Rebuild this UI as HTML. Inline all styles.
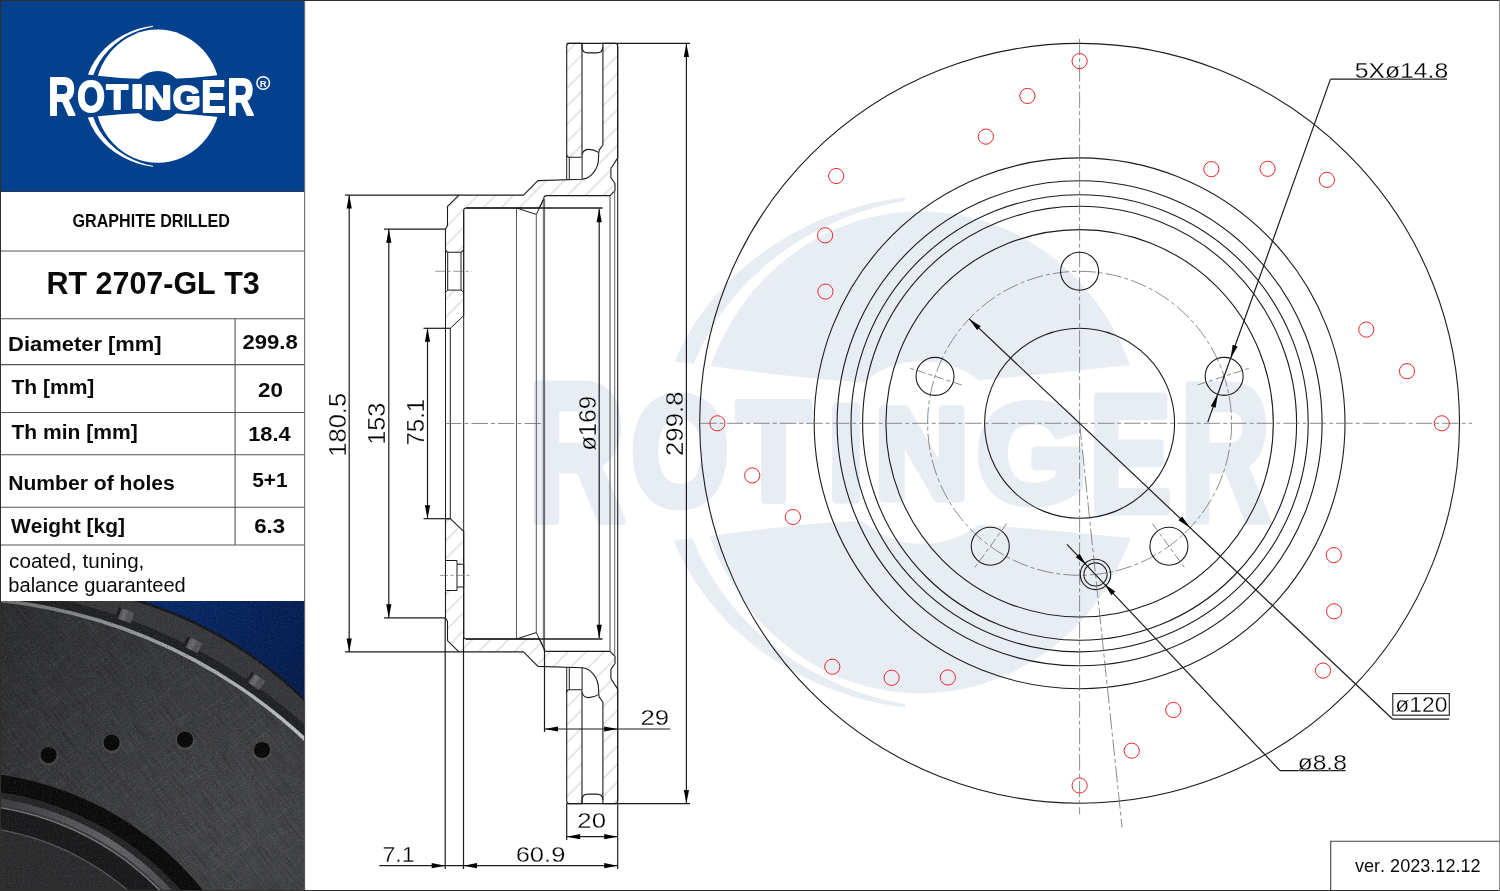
<!DOCTYPE html>
<html lang="en"><head><meta charset="utf-8"><title>ROTINGER RT 2707-GL T3</title>
<style>
html,body{margin:0;padding:0;background:#fff}
body{width:1500px;height:891px;overflow:hidden}
svg{display:block;will-change:transform}
text{font-family:"Liberation Sans",Arial,sans-serif;font-kerning:none}
</style></head><body>
<svg width="1500" height="891" viewBox="0 0 1500 891">
<defs>
<pattern id="hatch" width="12.7" height="12.7" patternUnits="userSpaceOnUse" patternTransform="rotate(-45)">
<line x1="0" y1="6" x2="12.7" y2="6" stroke="#b6b6b6" stroke-width="0.7"/>
</pattern>
<pattern id="hatch2" width="12.7" height="12.7" patternUnits="userSpaceOnUse" patternTransform="rotate(45)">
<line x1="0" y1="3" x2="12.7" y2="3" stroke="#b6b6b6" stroke-width="0.7"/>
</pattern>
<clipPath id="swclip"><rect x="60" y="0" width="93" height="200"/></clipPath>
<mask id="lmask" maskUnits="userSpaceOnUse" x="0" y="0" width="320" height="200">
<rect x="0" y="0" width="320" height="200" fill="#fff"/>
<path d="M60,73.2 L86,74.2 Q157.5,84.4 230,73.4 L250,72.6 L250,119.4 L230,118.6 Q157.5,107.6 86,117.8 L60,118.8 Z" fill="#000"/>
<circle cx="157.8" cy="96.2" r="25.3" fill="#000"/>
</mask>
<mask id="wmask" maskUnits="userSpaceOnUse" x="500" y="100" width="850" height="700">
<rect x="500" y="100" width="850" height="700" fill="#fff"/>
<path d="M600,352 L711,366 C780,376 850,383 900,384 C960,384 1060,372.5 1135,364.5 L1250,350 L1250,556 L1135,538.5 C1060,531 960,522 900,520 C850,519 780,526 711,536 L600,550 Z" fill="#000"/>
<circle cx="922.6" cy="452.4" r="91.5" fill="#000"/>
</mask>
</defs>
<rect x="0" y="0" width="1500" height="891" fill="#fff"/>

<g style="color:#e8edf3"><g mask="url(#wmask)"><g transform="translate(351.4 104.1) scale(3.62)" fill="currentColor"><ellipse cx="157.2" cy="96.2" rx="62.1" ry="66.6"/>
<path d="M171.2,25.34 A79.85,71.15 0 1 0 171.2,167.06 A78.55,70.91 0 1 1 171.2,25.34 Z" clip-path="url(#swclip)"/></g></g><text font-weight="bold" fill="currentColor" stroke="currentColor" stroke-width="9.0" stroke-linejoin="round"><tspan x="527.44" y="519.50" font-size="196.22" textLength="97.84" lengthAdjust="spacingAndGlyphs">R</tspan><tspan x="631.36" y="504.70" font-size="153.11" textLength="97.39" lengthAdjust="spacingAndGlyphs">O</tspan><tspan x="737.17" y="498.90" font-size="139.54" textLength="72.61" lengthAdjust="spacingAndGlyphs">T</tspan><tspan x="827.68" y="498.50" font-size="134.45" textLength="36.65" lengthAdjust="spacingAndGlyphs">I</tspan><tspan x="874.80" y="497.90" font-size="127.33" textLength="93.97" lengthAdjust="spacingAndGlyphs">N</tspan><tspan x="976.66" y="502.14" font-size="139.55" textLength="110.66" lengthAdjust="spacingAndGlyphs">G</tspan><tspan x="1089.27" y="510.50" font-size="165.99" textLength="82.03" lengthAdjust="spacingAndGlyphs">E</tspan><tspan x="1180.17" y="520.30" font-size="194.48" textLength="89.88" lengthAdjust="spacingAndGlyphs">R</tspan></text></g>
<g id="sidebar">
<rect x="0" y="0" width="304.5" height="191.3" fill="#04418d"/>
<g style="color:#fff"><g mask="url(#lmask)" fill="currentColor"><ellipse cx="157.7" cy="96.2" rx="62.9" ry="66.6"/>
<path d="M171.2,25.34 A79.85,71.15 0 1 0 171.2,167.06 A78.55,70.91 0 1 1 171.2,25.34 Z" clip-path="url(#swclip)"/></g><text font-weight="bold" fill="currentColor" stroke="currentColor" stroke-width="2.0" stroke-linejoin="round"><tspan x="48.37" y="115.00" font-size="54.51" textLength="27.30" lengthAdjust="spacingAndGlyphs">R</tspan><tspan x="77.24" y="111.97" font-size="43.93" textLength="27.65" lengthAdjust="spacingAndGlyphs">O</tspan><tspan x="106.61" y="108.80" font-size="34.30" textLength="21.47" lengthAdjust="spacingAndGlyphs">T</tspan><tspan x="130.89" y="108.40" font-size="33.14" textLength="12.92" lengthAdjust="spacingAndGlyphs">I</tspan><tspan x="144.26" y="108.80" font-size="32.99" textLength="27.39" lengthAdjust="spacingAndGlyphs">N</tspan><tspan x="172.73" y="109.75" font-size="35.88" textLength="27.89" lengthAdjust="spacingAndGlyphs">G</tspan><tspan x="201.16" y="112.30" font-size="44.04" textLength="24.37" lengthAdjust="spacingAndGlyphs">E</tspan><tspan x="227.22" y="115.00" font-size="52.47" textLength="26.74" lengthAdjust="spacingAndGlyphs">R</tspan></text></g>
<circle cx="263.2" cy="83" r="6.3" fill="none" stroke="#fff" stroke-width="1.5"/>
<text x="263.3" y="86.5" font-size="9.6" font-weight="bold" text-anchor="middle" fill="#fff">R</text>
<line x1="0.00" y1="191.40" x2="304.50" y2="191.40" stroke="#15275a" stroke-width="1.0" />
<line x1="0.00" y1="251.00" x2="304.50" y2="251.00" stroke="#555" stroke-width="1.1" />
<line x1="0.00" y1="318.80" x2="304.50" y2="318.80" stroke="#555" stroke-width="1.1" />
<line x1="0.00" y1="364.60" x2="304.50" y2="364.60" stroke="#555" stroke-width="1.1" />
<line x1="0.00" y1="412.50" x2="304.50" y2="412.50" stroke="#555" stroke-width="1.1" />
<line x1="0.00" y1="454.80" x2="304.50" y2="454.80" stroke="#555" stroke-width="1.1" />
<line x1="0.00" y1="507.20" x2="304.50" y2="507.20" stroke="#555" stroke-width="1.1" />
<line x1="0.00" y1="545.00" x2="304.50" y2="545.00" stroke="#555" stroke-width="1.1" />
<line x1="235.10" y1="318.80" x2="235.10" y2="545.00" stroke="#555" stroke-width="1.1" />
<line x1="304.60" y1="0.00" x2="304.60" y2="891.00" stroke="#6b6b6b" stroke-width="1.1" />
<text x="72.54" y="227.20" font-size="18.02" font-weight="bold" textLength="157.44" lengthAdjust="spacingAndGlyphs" fill="#0a0a0a">GRAPHITE DRILLED</text>
<text x="46.56" y="294.40" font-size="31.98" font-weight="bold" textLength="213.14" lengthAdjust="spacingAndGlyphs" fill="#0a0a0a">RT 2707-GL T3</text>
<text x="8.13" y="350.80" font-size="20.20" font-weight="bold" textLength="153.50" lengthAdjust="spacingAndGlyphs" fill="#0a0a0a">Diameter [mm]</text>
<text x="242.43" y="348.70" font-size="20.34" font-weight="bold" textLength="55.24" lengthAdjust="spacingAndGlyphs" fill="#0a0a0a">299.8</text>
<text x="11.46" y="393.90" font-size="20.64" font-weight="bold" textLength="82.92" lengthAdjust="spacingAndGlyphs" fill="#0a0a0a">Th [mm]</text>
<text x="258.02" y="396.50" font-size="20.63" font-weight="bold" textLength="24.89" lengthAdjust="spacingAndGlyphs" fill="#0a0a0a">20</text>
<text x="11.46" y="438.70" font-size="20.64" font-weight="bold" textLength="126.22" lengthAdjust="spacingAndGlyphs" fill="#0a0a0a">Th min [mm]</text>
<text x="248.22" y="440.90" font-size="20.63" font-weight="bold" textLength="42.49" lengthAdjust="spacingAndGlyphs" fill="#0a0a0a">18.4</text>
<text x="8.19" y="489.50" font-size="20.64" font-weight="bold" textLength="166.58" lengthAdjust="spacingAndGlyphs" fill="#0a0a0a">Number of holes</text>
<text x="252.16" y="486.90" font-size="20.49" font-weight="bold" textLength="35.42" lengthAdjust="spacingAndGlyphs" fill="#0a0a0a">5+1</text>
<text x="11.08" y="533.20" font-size="20.35" font-weight="bold" textLength="113.79" lengthAdjust="spacingAndGlyphs" fill="#0a0a0a">Weight [kg]</text>
<text x="254.19" y="532.80" font-size="20.06" font-weight="bold" textLength="30.81" lengthAdjust="spacingAndGlyphs" fill="#0a0a0a">6.3</text>
<text x="9.12" y="568.40" font-size="20.44" font-weight="normal" textLength="135.23" lengthAdjust="spacingAndGlyphs" fill="#0a0a0a">coated, tuning,</text>
<text x="8.31" y="591.90" font-size="20.44" font-weight="normal" textLength="177.49" lengthAdjust="spacingAndGlyphs" fill="#0a0a0a">balance guaranteed</text>
</g>
<defs>
<clipPath id="pclip"><rect x="0" y="601" width="304.2" height="290"/></clipPath>
<linearGradient id="pblue" gradientUnits="userSpaceOnUse" x1="140" y1="600" x2="304" y2="700"><stop offset="0" stop-color="#092b6c"/><stop offset="1" stop-color="#051c4e"/></linearGradient>
<filter id="grainW" x="0" y="0" width="100%" height="100%"><feTurbulence type="fractalNoise" baseFrequency="0.85" numOctaves="2" seed="3"/><feColorMatrix type="matrix" values="0 0 0 0 1  0 0 0 0 1  0 0 0 0 1  1.6 1.6 0 0 -1.5"/></filter>
<filter id="grainB" x="0" y="0" width="100%" height="100%"><feTurbulence type="fractalNoise" baseFrequency="0.8" numOctaves="2" seed="11"/><feColorMatrix type="matrix" values="0 0 0 0 0  0 0 0 0 0  0 0 0 0 0  1.6 1.6 0 0 -1.5"/></filter>
<filter id="streakW" x="0" y="0" width="100%" height="100%"><feTurbulence type="fractalNoise" baseFrequency="0.035 0.7" numOctaves="2" seed="5"/><feColorMatrix type="matrix" values="0 0 0 0 1  0 0 0 0 1  0 0 0 0 1  2.2 2.2 0 0 -2.1"/></filter>
<filter id="streakB" x="0" y="0" width="100%" height="100%"><feTurbulence type="fractalNoise" baseFrequency="0.03 0.6" numOctaves="2" seed="9"/><feColorMatrix type="matrix" values="0 0 0 0 0  0 0 0 0 0  0 0 0 0 0  2.2 2.2 0 0 -2.1"/></filter>
<clipPath id="faceclip"><circle cx="-53.5" cy="1123" r="523.4"/></clipPath>
<radialGradient id="face" gradientUnits="userSpaceOnUse" cx="255" cy="835" r="340"><stop offset="0" stop-color="#454648"/><stop offset="0.45" stop-color="#3b3c3e"/><stop offset="1" stop-color="#2b2c2e"/></radialGradient>
<linearGradient id="hl" gradientUnits="userSpaceOnUse" x1="0" y1="0" x2="304" y2="0"><stop offset="0" stop-color="#6e7072"/><stop offset="0.5" stop-color="#9c9ea0"/><stop offset="1" stop-color="#c2c4c6"/></linearGradient>
<linearGradient id="ring" gradientUnits="userSpaceOnUse" x1="0" y1="800" x2="180" y2="891"><stop offset="0" stop-color="#3c3d3f"/><stop offset="0.6" stop-color="#646567"/><stop offset="1" stop-color="#4a4b4d"/></linearGradient>
</defs>
<g clip-path="url(#pclip)">
<rect x="0" y="601" width="305" height="290" fill="url(#pblue)"/>
<circle cx="21.5" cy="986.8" r="404.2" fill="#171719"/>
<circle cx="21.5" cy="986.8" r="401.8" fill="#38393b"/>
<circle cx="-53.5" cy="1123" r="535.5" fill="#212224"/>
<g transform="translate(125.6 615.0) rotate(19.4)"><rect x="-7.5" y="-5" width="15" height="11" fill="#555658"/><rect x="-9" y="-5" width="3" height="11" fill="#1c1c1e"/><rect x="-4" y="-5" width="5" height="11" fill="#6f7072" opacity="0.7"/></g>
<g transform="translate(193.6 644.5) rotate(27.3)"><rect x="-7.5" y="-5" width="15" height="11" fill="#555658"/><rect x="-9" y="-5" width="3" height="11" fill="#1c1c1e"/><rect x="-4" y="-5" width="5" height="11" fill="#6f7072" opacity="0.7"/></g>
<g transform="translate(256.4 681.0) rotate(35.0)"><rect x="-7.5" y="-5" width="15" height="11" fill="#555658"/><rect x="-9" y="-5" width="3" height="11" fill="#1c1c1e"/><rect x="-4" y="-5" width="5" height="11" fill="#6f7072" opacity="0.7"/></g>
<circle cx="-53.5" cy="1123" r="526.9" fill="url(#hl)"/>
<circle cx="-53.5" cy="1123" r="523.4" fill="url(#face)"/>
<g clip-path="url(#faceclip)">
<rect x="-300" y="-300" width="900" height="900" transform="translate(150 750) rotate(-38)" filter="url(#streakW)" opacity="0.05"/>
<rect x="-300" y="-300" width="900" height="900" transform="translate(150 750) rotate(52)" filter="url(#streakB)" opacity="0.16"/>
<rect x="-300" y="-300" width="900" height="900" transform="translate(150 750) rotate(48)" filter="url(#streakW)" opacity="0.035"/>
</g>
<g>
<circle cx="48.6" cy="756.1" r="9.6" fill="#5a5b5e" opacity="0.5"/><circle cx="48.6" cy="755.1" r="8.1" fill="#09090a"/>
<circle cx="111.6" cy="743.7" r="9.6" fill="#5a5b5e" opacity="0.5"/><circle cx="111.6" cy="742.7" r="8.1" fill="#09090a"/>
<circle cx="185" cy="740.6" r="9.6" fill="#5a5b5e" opacity="0.5"/><circle cx="185" cy="739.6" r="8.1" fill="#09090a"/>
<circle cx="262" cy="751" r="9.6" fill="#5a5b5e" opacity="0.5"/><circle cx="262" cy="750" r="8.1" fill="#09090a"/>
</g>
<circle cx="-45" cy="1090" r="318.5" fill="#0b0b0c"/>
<circle cx="-45" cy="1090" r="301.5" fill="#262628"/>
<circle cx="-45" cy="1090" r="295" fill="url(#ring)"/>
<circle cx="-45" cy="1090" r="288.5" fill="#3a3a3c"/>
<circle cx="-45" cy="1090" r="286.6" fill="#7a7b7d"/>
<circle cx="-45" cy="1090" r="285.2" fill="#1a1a1c"/>
<circle cx="-45" cy="1090" r="264.6" fill="#58595b"/>
<circle cx="-45" cy="1090" r="263.3" fill="#2c2c2e"/>
<rect x="0" y="601" width="305" height="290" filter="url(#grainW)" opacity="0.10"/>
<rect x="0" y="601" width="305" height="290" filter="url(#grainB)" opacity="0.22"/>
</g>

<g id="section" fill="none" stroke-linecap="butt" stroke-linejoin="round">
<g>
<path d="M566.7,46 Q566.7,43.4 569.3,43.4 L582,43.4 L582,157.3 L569.3,157.3 Q566.7,157.3 566.7,154.7 Z" fill="url(#hatch)" stroke="none"/>
<path d="M602.9,43.4 L615.2,43.4 Q617.7,43.4 617.7,46 L617.7,157.9 L610.9,168.5 L610.9,177.6 L615,183.5 L615,190.6 L610,195.6 L547,195.6 Q543.7,195.6 543.7,199 L539.4,208 L466.2,208 Q463.7,208 463.7,210.5 L463.7,250 L461,252.3 L447.7,252.3 L445.5,250 L445.5,229.2 L447.5,225.5 L447.5,206.3 L458.9,195.1 L523.5,195.1 L537.9,180.6 L582.1,179.2 C589.5,178.6 598.6,171 598.6,157 Q598.6,152 599.3,149.8 L602.9,145 Z" fill="url(#hatch)" stroke="none"/>
<path d="M447.7,290.1 L461,290.1 L463.7,292.4 L463.7,315.7 L450.3,328.3 L445.5,328.3 L445.5,292.4 Z" fill="url(#hatch)" stroke="none"/>
<path d="M566.7,46 Q566.7,43.4 569.3,43.4 L582,43.4 L582,157.3 L569.3,157.3 Q566.7,157.3 566.7,154.7 Z" stroke="#1c1c1c" stroke-width="1.1"/>
<path d="M602.9,43.4 L615.2,43.4 Q617.7,43.4 617.7,46 L617.7,157.9 L610.9,168.5 L610.9,177.6 L615,183.5 L615,190.6 L610,195.6 L547,195.6 Q543.7,195.6 543.7,199 L539.4,208 L466.2,208 Q463.7,208 463.7,210.5 L463.7,250 L461,252.3 L447.7,252.3 L445.5,250 L445.5,229.2 L447.5,225.5 L447.5,206.3 L458.9,195.1 L523.5,195.1 L537.9,180.6 L582.1,179.2 C589.5,178.6 598.6,171 598.6,157 Q598.6,152 599.3,149.8 L602.9,145 Z" stroke="#1c1c1c" stroke-width="1.1"/>
<path d="M582,43.4 L582,47 Q582,52.9 588,52.9 L596.6,52.9 Q602.9,52.9 602.9,47" stroke="#1c1c1c" stroke-width="1.1"/>
<path d="M582.1,154.3 Q583.5,149.4 588.6,149.4 Q594,149.4 598.4,152.4" stroke="#1c1c1c" stroke-width="1.1"/>
<path d="M566.7,154.7 L566.7,179.6 M569.3,157.3 L569.3,179.5 M582.1,157.3 L582.1,179.2" stroke="#1c1c1c" stroke-width="1.0"/>
<path d="M516.5,208 L536.3,214.4 L543.7,199" stroke="#1c1c1c" stroke-width="1.0"/>
<path d="M445.5,250 L445.5,328.3 M447.7,252.3 L447.7,290.1 M461,252.3 L461,290.1 M463.7,250 L463.7,315.7 L450.3,328.3 M445.5,292.4 L447.7,290.1 L461,290.1 L463.7,292.4" stroke="#1c1c1c" stroke-width="1.0"/>
</g>
<g transform="matrix(1 0 0 -1 0 847.0)">
<path d="M566.7,46 Q566.7,43.4 569.3,43.4 L582,43.4 L582,157.3 L569.3,157.3 Q566.7,157.3 566.7,154.7 Z" fill="url(#hatch2)" stroke="none"/>
<path d="M602.9,43.4 L615.2,43.4 Q617.7,43.4 617.7,46 L617.7,157.9 L610.9,168.5 L610.9,177.6 L615,183.5 L615,190.6 L610,195.6 L547,195.6 Q543.7,195.6 543.7,199 L539.4,208 L466.2,208 Q463.7,208 463.7,210.5 L463.7,315.7 L450.3,328.3 L445.5,328.3 L445.5,229.2 L447.5,225.5 L447.5,206.3 L458.9,195.1 L523.5,195.1 L537.9,180.6 L582.1,179.2 C589.5,178.6 598.6,171 598.6,157 Q598.6,152 599.3,149.8 L602.9,145 Z" fill="url(#hatch2)" stroke="none"/>
<path d="M566.7,46 Q566.7,43.4 569.3,43.4 L582,43.4 L582,157.3 L569.3,157.3 Q566.7,157.3 566.7,154.7 Z" stroke="#1c1c1c" stroke-width="1.1"/>
<path d="M602.9,43.4 L615.2,43.4 Q617.7,43.4 617.7,46 L617.7,157.9 L610.9,168.5 L610.9,177.6 L615,183.5 L615,190.6 L610,195.6 L547,195.6 Q543.7,195.6 543.7,199 L539.4,208 L466.2,208 Q463.7,208 463.7,210.5 L463.7,315.7 L450.3,328.3 L445.5,328.3 L445.5,229.2 L447.5,225.5 L447.5,206.3 L458.9,195.1 L523.5,195.1 L537.9,180.6 L582.1,179.2 C589.5,178.6 598.6,171 598.6,157 Q598.6,152 599.3,149.8 L602.9,145 Z" stroke="#1c1c1c" stroke-width="1.1"/>
<path d="M582,43.4 L582,47 Q582,52.9 588,52.9 L596.6,52.9 Q602.9,52.9 602.9,47" stroke="#1c1c1c" stroke-width="1.1"/>
<path d="M582.1,154.3 Q583.5,149.4 588.6,149.4 Q594,149.4 598.4,152.4" stroke="#1c1c1c" stroke-width="1.1"/>
<path d="M566.7,154.7 L566.7,179.6 M569.3,157.3 L569.3,179.5 M582.1,157.3 L582.1,179.2" stroke="#1c1c1c" stroke-width="1.0"/>
<path d="M516.5,208 L536.3,214.4 L543.7,199" stroke="#1c1c1c" stroke-width="1.0"/>
</g>
<path d="M445.5,560.5 L457,560.5 L457,564.3 L463.7,564.3 L463.7,587 L457,587 L457,590.5 L445.5,590.5 Z" fill="#fff" stroke="#1c1c1c" stroke-width="1.0"/>
<path d="M457,564.3 L457,587" fill="none" stroke="#1c1c1c" stroke-width="1.0"/>
<line x1="445.50" y1="229.20" x2="445.50" y2="617.80" stroke="#1c1c1c" stroke-width="1.0" />
<line x1="450.30" y1="328.30" x2="450.30" y2="518.70" stroke="#1c1c1c" stroke-width="1.0" />
<line x1="463.70" y1="210.50" x2="463.70" y2="636.50" stroke="#1c1c1c" stroke-width="1.0" />
<line x1="516.50" y1="208.00" x2="516.50" y2="639.00" stroke="#444" stroke-width="0.9" />
<line x1="536.30" y1="214.40" x2="536.30" y2="632.60" stroke="#444" stroke-width="0.9" />
<line x1="543.30" y1="199.00" x2="543.30" y2="648.00" stroke="#333" stroke-width="0.8" />
<line x1="544.60" y1="199.00" x2="544.60" y2="648.00" stroke="#333" stroke-width="0.8" />
<line x1="610.00" y1="195.60" x2="610.00" y2="651.40" stroke="#666" stroke-width="1.2" />
<line x1="614.70" y1="190.60" x2="614.70" y2="656.40" stroke="#666" stroke-width="1.0" />
<line x1="617.70" y1="46.00" x2="617.70" y2="801.00" stroke="#1c1c1c" stroke-width="1.1" />
<line x1="445.00" y1="423.50" x2="541.00" y2="423.50" stroke="#6e6e6e" stroke-width="0.8" stroke-dasharray="16.5 3 4 3"/>
<line x1="435.20" y1="271.30" x2="471.70" y2="271.30" stroke="#6e6e6e" stroke-width="0.7" stroke-dasharray="10 2.5 3 2.5"/>
<line x1="440.00" y1="575.40" x2="469.60" y2="575.40" stroke="#6e6e6e" stroke-width="0.7" stroke-dasharray="8 2.5 3 2.5"/>
</g>
<g id="dims">
<line x1="345.00" y1="195.10" x2="459.00" y2="195.10" stroke="#1c1c1c" stroke-width="1.2" />
<line x1="345.00" y1="651.90" x2="459.00" y2="651.90" stroke="#1c1c1c" stroke-width="1.2" />
<line x1="349.20" y1="195.10" x2="349.20" y2="651.90" stroke="#1c1c1c" stroke-width="1.2" />
<polygon points="349.20,195.10 351.80,208.60 346.60,208.60" fill="#000"/>
<polygon points="349.20,651.90 346.60,638.40 351.80,638.40" fill="#000"/>
<line x1="384.00" y1="229.20" x2="446.00" y2="229.20" stroke="#1c1c1c" stroke-width="1.2" />
<line x1="384.00" y1="617.80" x2="446.00" y2="617.80" stroke="#1c1c1c" stroke-width="1.2" />
<line x1="388.80" y1="229.20" x2="388.80" y2="617.80" stroke="#1c1c1c" stroke-width="1.2" />
<polygon points="388.80,229.20 391.40,242.70 386.20,242.70" fill="#000"/>
<polygon points="388.80,617.80 386.20,604.30 391.40,604.30" fill="#000"/>
<line x1="423.50" y1="328.30" x2="450.30" y2="328.30" stroke="#1c1c1c" stroke-width="1.2" />
<line x1="423.50" y1="518.70" x2="450.30" y2="518.70" stroke="#1c1c1c" stroke-width="1.2" />
<line x1="427.50" y1="328.30" x2="427.50" y2="518.70" stroke="#1c1c1c" stroke-width="1.2" />
<polygon points="427.50,328.30 430.10,341.80 424.90,341.80" fill="#000"/>
<polygon points="427.50,518.70 424.90,505.20 430.10,505.20" fill="#000"/>
<line x1="466.00" y1="208.00" x2="602.50" y2="208.00" stroke="#1c1c1c" stroke-width="1.5" />
<line x1="466.00" y1="639.00" x2="602.50" y2="639.00" stroke="#1c1c1c" stroke-width="1.5" />
<line x1="599.20" y1="209.00" x2="599.20" y2="638.00" stroke="#1c1c1c" stroke-width="1.2" />
<polygon points="599.20,208.80 601.80,222.30 596.60,222.30" fill="#000"/>
<polygon points="599.20,638.20 596.60,624.70 601.80,624.70" fill="#000"/>
<line x1="566.70" y1="43.40" x2="690.00" y2="43.40" stroke="#1c1c1c" stroke-width="1.2" />
<line x1="566.70" y1="803.60" x2="690.00" y2="803.60" stroke="#1c1c1c" stroke-width="1.2" />
<line x1="686.40" y1="43.40" x2="686.40" y2="803.60" stroke="#1c1c1c" stroke-width="1.2" />
<polygon points="686.40,43.40 689.00,56.90 683.80,56.90" fill="#000"/>
<polygon points="686.40,803.60 683.80,790.10 689.00,790.10" fill="#000"/>
<line x1="445.20" y1="617.80" x2="445.20" y2="869.00" stroke="#1c1c1c" stroke-width="1.2" />
<line x1="463.50" y1="637.00" x2="463.50" y2="869.00" stroke="#1c1c1c" stroke-width="1.2" />
<line x1="617.70" y1="803.60" x2="617.70" y2="869.00" stroke="#1c1c1c" stroke-width="1.2" />
<line x1="566.70" y1="803.60" x2="566.70" y2="840.00" stroke="#1c1c1c" stroke-width="1.2" />
<line x1="544.50" y1="648.00" x2="544.50" y2="732.00" stroke="#1c1c1c" stroke-width="1.2" />
<line x1="544.50" y1="729.00" x2="670.30" y2="729.00" stroke="#1c1c1c" stroke-width="1.2" />
<polygon points="544.50,729.00 558.00,726.40 558.00,731.60" fill="#000"/>
<polygon points="617.70,729.00 604.20,731.60 604.20,726.40" fill="#000"/>
<line x1="566.70" y1="836.70" x2="617.70" y2="836.70" stroke="#1c1c1c" stroke-width="1.2" />
<polygon points="566.70,836.70 580.20,834.10 580.20,839.30" fill="#000"/>
<polygon points="617.70,836.70 604.20,839.30 604.20,834.10" fill="#000"/>
<line x1="379.30" y1="865.70" x2="617.70" y2="865.70" stroke="#1c1c1c" stroke-width="1.2" />
<polygon points="445.20,865.70 431.70,868.30 431.70,863.10" fill="#000"/>
<polygon points="463.50,865.70 477.00,863.10 477.00,868.30" fill="#000"/>
<polygon points="617.70,865.70 604.20,868.30 604.20,863.10" fill="#000"/>
<text transform="translate(345.80 456.69) rotate(-90)" x="0" y="0" font-size="24.71" textLength="63.81" lengthAdjust="spacingAndGlyphs" fill="#000" stroke="#fff" stroke-width="0.3">180.5</text>
<text transform="translate(385.30 444.87) rotate(-90)" x="0" y="0" font-size="24.57" textLength="42.13" lengthAdjust="spacingAndGlyphs" fill="#000" stroke="#fff" stroke-width="0.3">153</text>
<text transform="translate(423.80 445.48) rotate(-90)" x="0" y="0" font-size="24.28" textLength="46.60" lengthAdjust="spacingAndGlyphs" fill="#000" stroke="#fff" stroke-width="0.3">75.1</text>
<text transform="translate(595.80 450.87) rotate(-90)" x="0" y="0" font-size="24.57" textLength="54.96" lengthAdjust="spacingAndGlyphs" fill="#000" stroke="#fff" stroke-width="0.3">ø169</text>
<text transform="translate(682.80 456.05) rotate(-90)" x="0" y="0" font-size="24.57" textLength="64.52" lengthAdjust="spacingAndGlyphs" fill="#000" stroke="#fff" stroke-width="0.3">299.8</text>
<text x="640.46" y="725.10" font-size="22.11" textLength="28.61" lengthAdjust="spacingAndGlyphs" fill="#000" stroke="#fff" stroke-width="0.3">29</text>
<text x="577.35" y="828.30" font-size="21.82" textLength="28.71" lengthAdjust="spacingAndGlyphs" fill="#000" stroke="#fff" stroke-width="0.3">20</text>
<text x="515.65" y="861.70" font-size="21.82" textLength="49.81" lengthAdjust="spacingAndGlyphs" fill="#000" stroke="#fff" stroke-width="0.3">60.9</text>
<text x="382.47" y="861.70" font-size="21.82" textLength="32.11" lengthAdjust="spacingAndGlyphs" fill="#000" stroke="#fff" stroke-width="0.3">7.1</text>
</g>
<g id="front" fill="none">
<circle cx="1079.6" cy="423.3" r="379.9" stroke="#1c1c1c" stroke-width="1.1"/>
<circle cx="1079.6" cy="423.3" r="265.4" stroke="#1c1c1c" stroke-width="1.1"/>
<circle cx="1079.6" cy="423.3" r="242.5" stroke="#1c1c1c" stroke-width="1.1"/>
<circle cx="1079.6" cy="423.3" r="228.6" stroke="#1c1c1c" stroke-width="1.1"/>
<circle cx="1079.6" cy="423.3" r="217.0" stroke="#1c1c1c" stroke-width="1.1"/>
<circle cx="1079.6" cy="423.3" r="193.7" stroke="#1c1c1c" stroke-width="1.1"/>
<circle cx="1079.6" cy="423.3" r="95" stroke="#1c1c1c" stroke-width="1.1"/>
<line x1="700.20" y1="423.30" x2="1472.00" y2="423.30" stroke="#6e6e6e" stroke-width="0.8" stroke-dasharray="16.5 3 4 3"/>
<line x1="1079.60" y1="38.70" x2="1079.60" y2="814.10" stroke="#6e6e6e" stroke-width="0.8" stroke-dasharray="16.5 3 4 3"/>
<circle cx="1079.6" cy="423.3" r="152" stroke="#6e6e6e" stroke-width="0.8" stroke-dasharray="16.5 3 4 3"/>
<circle cx="1079.60" cy="271.30" r="19" stroke="#1c1c1c" stroke-width="1.1"/>
<circle cx="935.04" cy="376.33" r="19" stroke="#1c1c1c" stroke-width="1.1"/>
<line x1="961.67" y1="384.98" x2="908.41" y2="367.68" stroke="#6e6e6e" stroke-width="0.8" stroke-dasharray="9 3 4 3"/>
<circle cx="990.26" cy="546.27" r="19" stroke="#1c1c1c" stroke-width="1.1"/>
<line x1="1006.71" y1="523.62" x2="973.80" y2="568.92" stroke="#6e6e6e" stroke-width="0.8" stroke-dasharray="9 3 4 3"/>
<circle cx="1168.94" cy="546.27" r="19" stroke="#1c1c1c" stroke-width="1.1"/>
<line x1="1152.49" y1="523.62" x2="1185.40" y2="568.92" stroke="#6e6e6e" stroke-width="0.8" stroke-dasharray="9 3 4 3"/>
<circle cx="1224.16" cy="376.33" r="19" stroke="#1c1c1c" stroke-width="1.1"/>
<line x1="1197.53" y1="384.98" x2="1250.79" y2="367.68" stroke="#6e6e6e" stroke-width="0.8" stroke-dasharray="9 3 4 3"/>
<circle cx="1095.49" cy="574.47" r="15.2" stroke="#1c1c1c" stroke-width="1.1"/><circle cx="1095.49" cy="574.47" r="11.6" stroke="#1c1c1c" stroke-width="1.1"/>
<line x1="1079.60" y1="423.30" x2="1122.06" y2="827.27" stroke="#6e6e6e" stroke-width="0.8" stroke-dasharray="16.5 3 4 3"/>
<circle cx="1079.60" cy="61.10" r="7.6" stroke="#e8262a" stroke-width="1"/>
<circle cx="1027.46" cy="95.93" r="7.6" stroke="#e8262a" stroke-width="1"/>
<circle cx="985.90" cy="136.62" r="7.6" stroke="#e8262a" stroke-width="1"/>
<circle cx="836.17" cy="176.01" r="7.6" stroke="#e8262a" stroke-width="1"/>
<circle cx="825.10" cy="235.32" r="7.6" stroke="#e8262a" stroke-width="1"/>
<circle cx="825.42" cy="291.54" r="7.6" stroke="#e8262a" stroke-width="1"/>
<circle cx="717.40" cy="423.30" r="7.6" stroke="#e8262a" stroke-width="1"/>
<circle cx="752.23" cy="475.44" r="7.6" stroke="#e8262a" stroke-width="1"/>
<circle cx="792.92" cy="517.00" r="7.6" stroke="#e8262a" stroke-width="1"/>
<circle cx="832.31" cy="666.73" r="7.6" stroke="#e8262a" stroke-width="1"/>
<circle cx="891.62" cy="677.80" r="7.6" stroke="#e8262a" stroke-width="1"/>
<circle cx="947.84" cy="677.48" r="7.6" stroke="#e8262a" stroke-width="1"/>
<circle cx="1079.60" cy="785.50" r="7.6" stroke="#e8262a" stroke-width="1"/>
<circle cx="1131.74" cy="750.67" r="7.6" stroke="#e8262a" stroke-width="1"/>
<circle cx="1173.30" cy="709.98" r="7.6" stroke="#e8262a" stroke-width="1"/>
<circle cx="1323.03" cy="670.59" r="7.6" stroke="#e8262a" stroke-width="1"/>
<circle cx="1334.10" cy="611.28" r="7.6" stroke="#e8262a" stroke-width="1"/>
<circle cx="1333.78" cy="555.06" r="7.6" stroke="#e8262a" stroke-width="1"/>
<circle cx="1441.80" cy="423.30" r="7.6" stroke="#e8262a" stroke-width="1"/>
<circle cx="1406.97" cy="371.16" r="7.6" stroke="#e8262a" stroke-width="1"/>
<circle cx="1366.28" cy="329.60" r="7.6" stroke="#e8262a" stroke-width="1"/>
<circle cx="1326.89" cy="179.87" r="7.6" stroke="#e8262a" stroke-width="1"/>
<circle cx="1267.58" cy="168.80" r="7.6" stroke="#e8262a" stroke-width="1"/>
<circle cx="1211.36" cy="169.12" r="7.6" stroke="#e8262a" stroke-width="1"/>
</g>
<g id="leaders">
<line x1="969.11" y1="318.92" x2="1392.80" y2="719.20" stroke="#1c1c1c" stroke-width="1.2" />
<line x1="1392.80" y1="719.20" x2="1449.30" y2="719.20" stroke="#1c1c1c" stroke-width="1.2" />
<polygon points="969.11,318.92 980.71,326.30 977.13,330.08" fill="#000"/>
<polygon points="1190.09,527.68 1178.49,520.30 1182.07,516.52" fill="#000"/>
<rect x="1392.8" y="693.6" width="56.5" height="21.6" fill="none" stroke="#1c1c1c" stroke-width="1.1"/>
<text x="1395.36" y="712.00" font-size="21.24" textLength="52.08" lengthAdjust="spacingAndGlyphs" fill="#000" stroke="#fff" stroke-width="0.3">ø120</text>
<line x1="1067.00" y1="544.29" x2="1280.00" y2="770.70" stroke="#1c1c1c" stroke-width="1.2" />
<line x1="1280.00" y1="770.70" x2="1345.60" y2="770.70" stroke="#1c1c1c" stroke-width="1.2" />
<polygon points="1086.22,564.65 1075.75,557.34 1079.53,553.78" fill="#000"/>
<polygon points="1104.75,584.28 1115.23,591.59 1111.44,595.16" fill="#000"/>
<text x="1297.72" y="769.60" font-size="22.40" textLength="49.09" lengthAdjust="spacingAndGlyphs" fill="#000" stroke="#fff" stroke-width="0.3">ø8.8</text>
<line x1="1330.50" y1="79.10" x2="1207.82" y2="421.99" stroke="#1c1c1c" stroke-width="1.2" />
<line x1="1330.50" y1="79.10" x2="1447.00" y2="79.10" stroke="#1c1c1c" stroke-width="1.2" />
<polygon points="1230.56,358.44 1232.66,344.85 1237.56,346.60" fill="#000"/>
<polygon points="1217.76,394.22 1215.66,407.81 1210.76,406.05" fill="#000"/>
<text x="1354.66" y="77.90" font-size="22.98" textLength="93.57" lengthAdjust="spacingAndGlyphs" fill="#000" stroke="#fff" stroke-width="0.3">5Xø14.8</text>
</g>
<path d="M1330.7,891 L1330.7,841.3 L1500,841.3" fill="none" stroke="#444" stroke-width="1.1"/>
<text x="1354.94" y="871.6" font-size="18.31" textLength="125.67" lengthAdjust="spacingAndGlyphs" fill="#0a0a0a">ver. 2023.12.12</text>
<path d="M0,0.5 H1500 M0,890.5 H1500 M0.5,0 V891" fill="none" stroke="#2e2e2e" stroke-width="1"/><path d="M1499.5,0 V891" fill="none" stroke="#8a8a8a" stroke-width="1"/>
</svg></body></html>
